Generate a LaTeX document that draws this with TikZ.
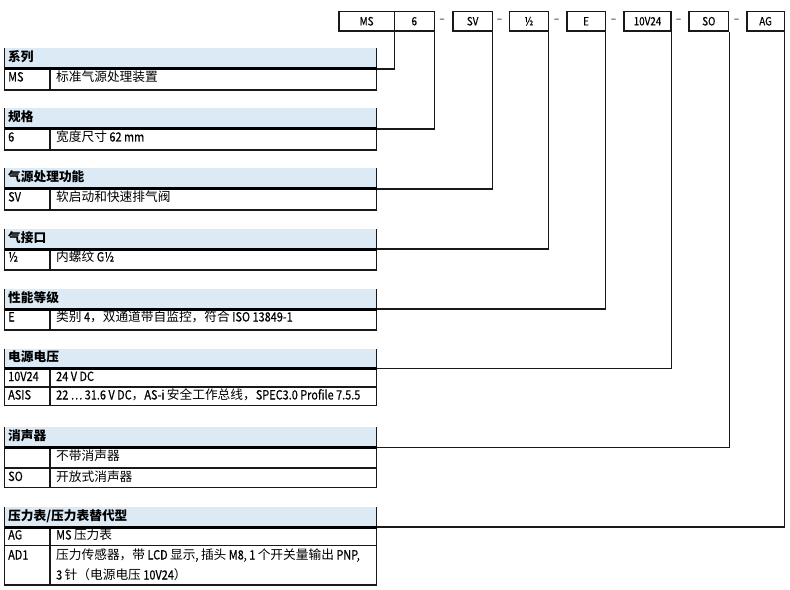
\documentclass[tikz,border=0pt]{standalone}
\usepackage{fontspec}
\setmainfont{Noto Sans CJK SC}
\newfontfamily\latfont[FakeStretch=0.86,FakeBold=0.4]{Noto Sans CJK SC}
\newcommand\lat[1]{{\latfont #1}}
\definecolor{hdrblue}{RGB}{219,234,245}
\definecolor{ink}{RGB}{25,25,25}
\tikzset{
  lw/.style={line width=1.1bp, draw=ink},
  thick3/.style={line width=3bp, draw=black},
  conn/.style={line width=1.1bp, draw=ink},
  topbox/.style={draw=ink, line width=1.1bp, minimum height=19.5bp, inner sep=0pt,
    font=\fontsize{11.5}{13}\selectfont\latfont},
  dashtxt/.style={inner sep=0pt, font=\fontsize{11}{12}\selectfont\latfont},
  hdrtext/.style={anchor=base west, inner sep=0pt, font=\fontsize{12.75}{14}\selectfont\bfseries},
  celltext/.style={anchor=base west, inner sep=0pt, font=\fontsize{12.75}{14}\selectfont},
  keytext/.style={anchor=base west, inner sep=0pt, font=\fontsize{12.75}{14}\selectfont\latfont},
}
\begin{document}
\begin{tikzpicture}[x=1bp,y=-1bp]
\useasboundingbox (0,0) rectangle (790,590);

% ---------- top type-code boxes ----------
\node[topbox, minimum width=55.3bp] (bMS) at (366.6,21.25) {MS};
\node[topbox, minimum width=40bp]   (b6)  at (414.3,21.25) {6};
\node[topbox, minimum width=39.3bp] (bSV) at (472.6,21.25) {SV};
\node[topbox, minimum width=38.8bp] (bG)  at (528.9,21.25) {½};
\node[topbox, minimum width=38.3bp] (bE)  at (586.1,21.25) {E};
\node[topbox, minimum width=47bp]   (bV)  at (647.5,21.25) {10V24};
\node[topbox, minimum width=39.7bp] (bSO) at (708.8,21.25) {SO};
\node[topbox, minimum width=37.3bp] (bAG) at (765.6,21.25) {AG};
\node[dashtxt] (d1) at (442,20.5) {–};
\node[dashtxt] (d2) at (499.5,20.5) {–};
\node[dashtxt] (d3) at (556.5,20.5) {–};
\node[dashtxt] (d4) at (613.5,20.5) {–};
\node[dashtxt] (d5) at (678.5,20.5) {–};
\node[dashtxt] (d6) at (736.5,20.5) {–};

% ---------- table 1: 系列 ----------
\fill[hdrblue] (4.5,48.5) rectangle (376.5,69);
\draw[lw] (4.5,48.5) -- (4.5,90) -- (376.5,90) -- (376.5,48.5);
\draw[lw] (50,69) -- (50,90);
\draw[thick3] (4.5,69) -- (376.5,69);
\node[hdrtext] (h1) at (8,62) {系列};
\node[keytext] (k1a) at (8,81.5) {MS};
\node[celltext] (v1a) at (56,81.5) {标准气源处理装置};
\coordinate (c1) at (376.5,69);

% ---------- table 2: 规格 ----------
\fill[hdrblue] (4.5,108.5) rectangle (376.5,129);
\draw[lw] (4.5,108.5) -- (4.5,150) -- (376.5,150) -- (376.5,108.5);
\draw[lw] (50,129) -- (50,150);
\draw[thick3] (4.5,129) -- (376.5,129);
\node[hdrtext] (h2) at (8,122) {规格};
\node[keytext] (k2a) at (8,141.5) {6};
\node[celltext] (v2a) at (56,141.5) {宽度尺寸\lat{ 62 mm}};
\coordinate (c2) at (376.5,129);

% ---------- table 3: 气源处理功能 ----------
\fill[hdrblue] (4.5,168.5) rectangle (376.5,189);
\draw[lw] (4.5,168.5) -- (4.5,210) -- (376.5,210) -- (376.5,168.5);
\draw[lw] (50,189) -- (50,210);
\draw[thick3] (4.5,189) -- (376.5,189);
\node[hdrtext] (h3) at (8,182) {气源处理功能};
\node[keytext] (k3a) at (8,201.5) {SV};
\node[celltext] (v3a) at (56,201.5) {软启动和快速排气阀};
\coordinate (c3) at (376.5,189);

% ---------- table 4: 气接口 ----------
\fill[hdrblue] (4.5,228.5) rectangle (376.5,249);
\draw[lw] (4.5,228.5) -- (4.5,270) -- (376.5,270) -- (376.5,228.5);
\draw[lw] (50,249) -- (50,270);
\draw[thick3] (4.5,249) -- (376.5,249);
\node[hdrtext] (h4) at (8,242) {气接口};
\node[keytext] (k4a) at (8,261.5) {½};
\node[celltext] (v4a) at (56,261.5) {内螺纹\lat{ G½}};
\coordinate (c4) at (376.5,249);

% ---------- table 5: 性能等级 ----------
\fill[hdrblue] (4.5,288.5) rectangle (376.5,309);
\draw[lw] (4.5,288.5) -- (4.5,330) -- (376.5,330) -- (376.5,288.5);
\draw[lw] (50,309) -- (50,330);
\draw[thick3] (4.5,309) -- (376.5,309);
\node[hdrtext] (h5) at (8,302) {性能等级};
\node[keytext] (k5a) at (8,321.5) {E};
\node[celltext] (v5a) at (56,321.5) {类别\lat{ 4}，双通道带自监控，符合\lat{ ISO 13849-1}};
\coordinate (c5) at (376.5,309);

% ---------- table 6: 电源电压 ----------
\fill[hdrblue] (4.5,348.5) rectangle (376.5,368.5);
\draw[lw] (4.5,348.5) -- (4.5,405.5) -- (376.5,405.5) -- (376.5,348.5);
\draw[lw] (4.5,387) -- (376.5,387);
\draw[lw] (50,368.5) -- (50,405.5);
\draw[thick3] (4.5,368.5) -- (376.5,368.5);
\node[hdrtext] (h6) at (8,361.5) {电源电压};
\node[keytext] (k6a) at (8,381) {10V24};
\node[celltext] (v6a) at (56,381) {\lat{24 V DC}};
\node[keytext] (k6b) at (8,399.5) {ASIS};
\node[celltext] (v6b) at (56,399.5) {\lat{22 … 31.6 V DC}，\lat{AS-i }安全工作总线，\lat{SPEC3.0 Profile 7.5.5}};
\coordinate (c6) at (376.5,368.5);

% ---------- table 7: 消声器 ----------
\fill[hdrblue] (4.5,427) rectangle (376.5,447.5);
\draw[lw] (4.5,427) -- (4.5,487.5) -- (376.5,487.5) -- (376.5,427);
\draw[lw] (4.5,468) -- (376.5,468);
\draw[lw] (50,447.5) -- (50,487.5);
\draw[thick3] (4.5,447.5) -- (376.5,447.5);
\node[hdrtext] (h7) at (8,440.5) {消声器};
\node[celltext] (v7a) at (56,460.5) {不带消声器};
\node[keytext] (k7b) at (8,481) {SO};
\node[celltext] (v7b) at (56,481) {开放式消声器};
\coordinate (c7) at (376.5,447.5);

% ---------- table 8: 压力表/压力表替代型 ----------
\fill[hdrblue] (4.5,507) rectangle (376.5,527);
\draw[lw] (4.5,507) -- (4.5,585) -- (376.5,585) -- (376.5,507);
\draw[lw] (4.5,545.5) -- (376.5,545.5);
\draw[lw] (50,527) -- (50,585);
\draw[thick3] (4.5,527) -- (376.5,527);
\node[hdrtext] (h8) at (8,520) {压力表/压力表替代型};
\node[keytext] (k8a) at (8,539.5) {AG};
\node[celltext] (v8a) at (56,539.5) {\lat{MS }压力表};
\node[keytext] (k8b) at (8,559.5) {AD1};
\node[celltext] (v8b) at (56,559.5) {压力传感器，带\lat{ LCD }显示\lat{, }插头\lat{ M8, 1 }个开关量输出\lat{ PNP,}};
\node[celltext] (v8c) at (56,579.5) {\lat{3 }针（电源电压\lat{ 10V24}）};
\coordinate (c8) at (376.5,527);

% ---------- connectors ----------
\draw[conn] (c1) -| (bMS.south east);
\draw[conn] (c2) -| (b6.south east);
\draw[conn] (c3) -| (bSV.south east);
\draw[conn] (c4) -| (bG.south east);
\draw[conn] (c5) -| (bE.south east);
\draw[conn] (c6) -| (bV.south east);
\draw[conn] (c7) -| (bSO.south east);
\draw[conn] (c8) -| (bAG.south east);
\end{tikzpicture}
\end{document}
